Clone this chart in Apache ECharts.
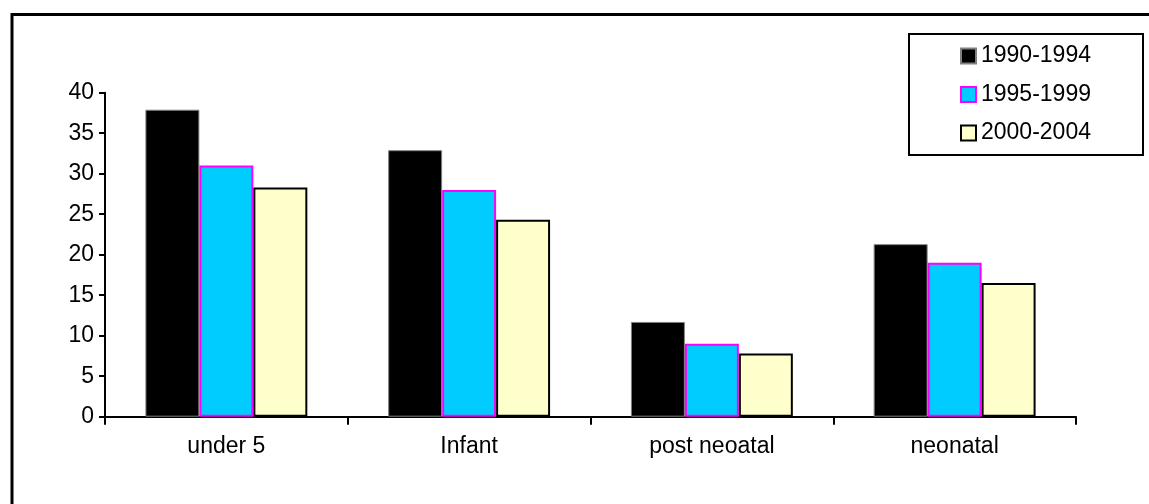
<!DOCTYPE html>
<html>
<head>
<meta charset="utf-8">
<script src="https://cdn.jsdelivr.net/npm/echarts@6/dist/echarts.min.js"></script>
<style>
  html, body { margin: 0; padding: 0; background: #fff; }
  #chart { width: 1149px; height: 504px; }
</style>
</head>
<body>
<div id="chart"></div>
<script>
// Mortality rates per age group for three five-year periods
const categories = ['under 5', 'Infant', 'post neoatal', 'neonatal'];
const periods = ['1990-1994', '1995-1999', '2000-2004'];
const rates1990 = [37.9, 32.9, 11.7, 21.3];
const rates1995 = [31.0, 28.0, 9.0, 19.0];
const rates2000 = [28.3, 24.3, 7.8, 16.5];
const yTicks = [0, 5, 10, 15, 20, 25, 30, 35, 40];

const FONT = 'Liberation Sans, Arial, sans-serif';
const FS = 23;

const chart = echarts.init(document.getElementById('chart'), null, { renderer: 'canvas' });

const barStyles = [
  { color: '#000000', borderColor: '#808080', borderWidth: 1 },
  { color: '#00CCFF', borderColor: '#FF00FF', borderWidth: 2 },
  { color: '#FFFFCC', borderColor: '#000000', borderWidth: 2 }
];
const seriesData = [rates1990, rates1995, rates2000];

chart.setOption({
  animation: false,
  backgroundColor: '#ffffff',
  title: {
    text: 'Childhood Mortality Rates Compared Among Three Periods of Study, 1990-2004',
    left: 'center',
    top: -21,
    textStyle: { fontFamily: FONT, fontSize: 17, fontWeight: 'bold', color: '#000' }
  },
  graphic: [
    {
      type: 'rect',
      z: -1,
      shape: { x: 12, y: 14.5, width: 1300, height: 700 },
      style: { fill: 'none', stroke: '#000', lineWidth: 3 }
    },
    {
      type: 'rect',
      z: 0,
      shape: { x: 909, y: 34, width: 234, height: 121 },
      style: { fill: '#fff', stroke: '#000', lineWidth: 2 }
    }
  ],
  legend: {
    data: periods,
    orient: 'vertical',
    left: 960,
    top: 44,
    padding: 0,
    itemWidth: 15,
    itemHeight: 15,
    itemGap: 14.5,
    icon: 'rect',
    z: 5,
    textStyle: { fontFamily: FONT, fontSize: FS, color: '#000', lineHeight: 24 }
  },
  grid: { left: 105, right: 73, top: 92.7, bottom: 87.3 },
  xAxis: {
    type: 'category',
    data: categories,
    axisLine: { lineStyle: { color: '#000', width: 2 } },
    axisTick: { show: true, length: 8, lineStyle: { color: '#000', width: 2 } },
    axisLabel: { fontFamily: FONT, fontSize: FS, color: '#000', margin: 18 }
  },
  yAxis: {
    type: 'value',
    min: yTicks[0],
    max: yTicks[yTicks.length - 1],
    interval: 5,
    splitLine: { show: false },
    axisLine: { show: true, lineStyle: { color: '#000', width: 2 } },
    axisTick: { show: true, length: 6, lineStyle: { color: '#000', width: 2 } },
    axisLabel: { fontFamily: FONT, fontSize: FS, color: '#000', margin: 11 }
  },
  series: periods.map((name, i) => ({
    name: name,
    type: 'bar',
    data: seriesData[i],
    barGap: '0%',
    barCategoryGap: '33.3%',
    itemStyle: barStyles[i]
  }))
});
</script>
</body>
</html>
